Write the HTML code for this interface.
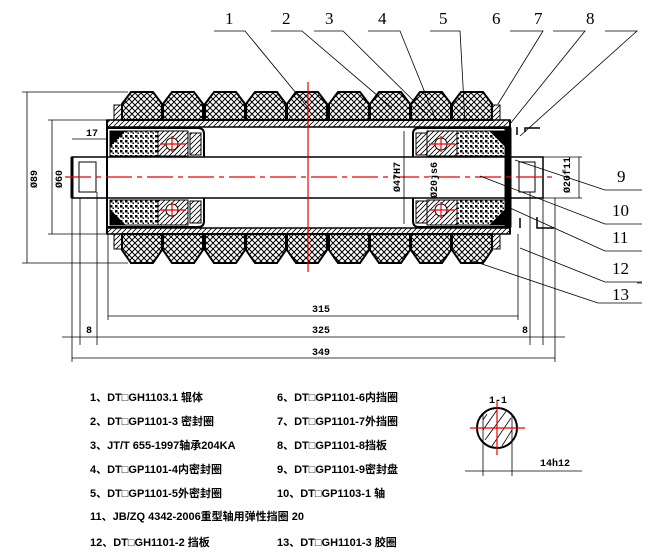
<!DOCTYPE html>
<html><head><meta charset="utf-8"><style>
html,body{margin:0;padding:0;background:#fff;}
svg{display:block;font-family:"Liberation Sans","Noto Sans CJK SC",sans-serif;}
.t{font-size:11px;font-weight:bold;fill:#000;}
.n{font-family:"Liberation Serif",serif;font-size:17px;fill:#000;}
.d{font-family:"Liberation Mono",monospace;font-size:10px;font-weight:bold;fill:#000;}
</style></head><body>
<svg width="658" height="556" viewBox="0 0 658 556" xmlns="http://www.w3.org/2000/svg">
<defs>
<pattern id="x" width="6" height="6" patternUnits="userSpaceOnUse">
<path d="M0 0L6 6M6 0L0 6" stroke="#000" stroke-width="1"/></pattern>
<pattern id="h" width="5" height="5" patternUnits="userSpaceOnUse">
<path d="M0 5L5 0M-1 1L1 -1M4 6L6 4" stroke="#000" stroke-width="0.8"/></pattern>
<pattern id="s" width="5" height="5" patternUnits="userSpaceOnUse">
<rect width="5" height="5" fill="#fff"/><rect x="0" y="0" width="2.5" height="2.5" fill="#000"/><rect x="2.5" y="2.5" width="1.5" height="1.5" fill="#000"/></pattern>
</defs>
<g stroke="#000" fill="none" stroke-width="1">
<g fill="url(#x)" stroke-width="2">
<polygon points="131,92 153,92 162,104 162,120 122,120 122,104"/>
<polygon points="172,92 194,92 203,104 203,120 163,120 163,104"/>
<polygon points="214,92 236,92 245,104 245,120 205,120 205,104"/>
<polygon points="255,92 277,92 286,104 286,120 246,120 246,104"/>
<polygon points="296,92 318,92 327,104 327,120 287,120 287,104"/>
<polygon points="338,92 360,92 369,104 369,120 329,120 329,104"/>
<polygon points="379,92 401,92 410,104 410,120 370,120 370,104"/>
<polygon points="420,92 442,92 451,104 451,120 411,120 411,104"/>
<polygon points="461,92 483,92 492,104 492,120 452,120 452,104"/>
<polygon points="122,234 162,234 162,250 153,263 131,263 122,250"/>
<polygon points="163,234 203,234 203,250 194,263 172,263 163,250"/>
<polygon points="205,234 245,234 245,250 236,263 214,263 205,250"/>
<polygon points="246,234 286,234 286,250 277,263 255,263 246,250"/>
<polygon points="287,234 327,234 327,250 318,263 296,263 287,250"/>
<polygon points="329,234 369,234 369,250 360,263 338,263 329,250"/>
<polygon points="370,234 410,234 410,250 401,263 379,263 370,250"/>
<polygon points="411,234 451,234 451,250 442,263 420,263 411,250"/>
<polygon points="452,234 492,234 492,250 483,263 461,263 452,250"/>
</g>
<rect x="114" y="105" width="8" height="15" fill="url(#h)"/>
<rect x="492" y="105" width="8" height="15" fill="url(#h)"/>
<rect x="114" y="234" width="8" height="15" fill="url(#h)"/>
<rect x="492" y="234" width="8" height="15" fill="url(#h)"/>
<rect x="107" y="120" width="403" height="7" fill="url(#h)" stroke-width="1.5"/>
<rect x="107" y="228" width="403" height="6" fill="url(#h)" stroke-width="1.5"/>
<line x1="107" y1="120" x2="107" y2="234" stroke-width="2"/>
<line x1="510" y1="120" x2="510" y2="234" stroke-width="2"/>
<rect x="72" y="157" width="471" height="41" stroke-width="1.5"/>
<rect x="79" y="162" width="17" height="30"/>
<rect x="519" y="162" width="16" height="30"/>
<line x1="72" y1="157" x2="72" y2="198" stroke-width="3"/>
<path d="M107 128 L198 128 Q204 128 204 134 L204 157" stroke-width="2"/>
<path d="M107 227 L198 227 Q204 227 204 221 L204 198" stroke-width="2"/>
<rect x="110" y="131" width="48" height="25" fill="url(#s)"/>
<rect x="110" y="200" width="48" height="25" fill="url(#s)"/>
<path d="M110 131L125 131L110 146Z M110 225L125 225L110 210Z" fill="#000"/>
<rect x="158" y="131" width="30" height="25" fill="url(#h)"/>
<rect x="158" y="200" width="30" height="25" fill="url(#h)"/>
<circle cx="172" cy="144" r="6" fill="#fff"/><circle cx="172" cy="210" r="6" fill="#fff"/>
<rect x="190" y="133" width="11" height="22" fill="url(#h)"/>
<rect x="190" y="201" width="11" height="22" fill="url(#h)"/>
<path d="M510 128 L419 128 Q413 128 413 134 L413 157" stroke-width="2"/>
<path d="M510 227 L419 227 Q413 227 413 221 L413 198" stroke-width="2"/>
<rect x="416" y="133" width="11" height="22" fill="url(#h)"/>
<rect x="416" y="201" width="11" height="22" fill="url(#h)"/>
<rect x="427" y="131" width="30" height="25" fill="url(#h)"/>
<rect x="427" y="200" width="30" height="25" fill="url(#h)"/>
<circle cx="441" cy="144" r="6" fill="#fff"/><circle cx="441" cy="210" r="6" fill="#fff"/>
<rect x="457" y="131" width="48" height="25" fill="url(#s)"/>
<rect x="457" y="200" width="48" height="25" fill="url(#s)"/>
<path d="M505 131L490 131L505 146Z M505 225L490 225L505 210Z" fill="#000"/>
<rect x="505" y="128" width="6" height="99" fill="#000"/>
</g>
<g stroke="#e00" stroke-width="1.2" fill="none">
<line x1="65" y1="177" x2="555" y2="177" stroke-dasharray="26,5,5,5"/>
<line x1="308" y1="82" x2="308" y2="272"/>
<line x1="160" y1="144" x2="186" y2="144"/><line x1="172" y1="136" x2="172" y2="152"/>
<line x1="160" y1="210" x2="186" y2="210"/><line x1="172" y1="202" x2="172" y2="218"/>
<line x1="429" y1="144" x2="455" y2="144"/><line x1="441" y1="136" x2="441" y2="152"/>
<line x1="429" y1="210" x2="455" y2="210"/><line x1="441" y1="202" x2="441" y2="218"/>
</g>
<g stroke="#000" stroke-width="0.8" fill="none">
<line x1="22" y1="92" x2="128" y2="92"/><line x1="22" y1="263" x2="128" y2="263"/>
<line x1="27" y1="92" x2="27" y2="263"/>
<line x1="48" y1="120" x2="107" y2="120"/><line x1="48" y1="234" x2="107" y2="234"/>
<line x1="52" y1="120" x2="52" y2="234"/>
<line x1="72" y1="139" x2="107" y2="139"/>
<line x1="404" y1="131" x2="404" y2="224"/>
<line x1="543" y1="157" x2="582" y2="157"/><line x1="543" y1="198" x2="582" y2="198"/>
<line x1="579" y1="157" x2="579" y2="198"/>
<line x1="72" y1="198" x2="72" y2="362"/>
<line x1="80" y1="198" x2="80" y2="345"/>
<line x1="97" y1="192" x2="97" y2="345"/>
<line x1="108" y1="234" x2="108" y2="320"/>
<line x1="518" y1="234" x2="518" y2="320"/>
<line x1="530" y1="192" x2="530" y2="345"/>
<line x1="543" y1="198" x2="543" y2="345"/>
<line x1="555" y1="198" x2="555" y2="362"/>
<line x1="108" y1="316" x2="518" y2="316"/>
<line x1="62" y1="337" x2="565" y2="337"/>
<line x1="72" y1="358" x2="555" y2="358"/>
<path d="M517 127 L517 135 M525 132 L525 128 L540 128 M520 228 L520 218 M537 217 L537 228 L554 228" stroke-width="1.5"/>
<path d="M214 31H245L310 110"/>
<path d="M271 31H302L392 108"/>
<path d="M314 31H343L428 115"/>
<path d="M368 31H400L436 120"/>
<path d="M430 31H460L465 122"/>
<path d="M510 31H543L498 104"/>
<path d="M553 31H585L510 124"/>
<path d="M605 31H637L520 136"/>
<path d="M605 190H642M605 190L515 160"/>
<path d="M605 224H642M605 224L480 176"/>
<path d="M605 251H642M605 251L510 208"/>
<path d="M605 282H642M605 282L520 248"/>
<path d="M637 283H642M598 303H642M598 303L470 260"/>
<circle cx="497" cy="428" r="20" stroke-width="2"/>
<line x1="483" y1="414" x2="483" y2="476"/><line x1="512" y1="414" x2="512" y2="476"/>
<line x1="465" y1="471" x2="582" y2="471"/>
</g>
<g stroke="#000" stroke-width="0.8"><path d="M487 414L483 420M497 410L483 430M507 410L485 440M511 418L492 446M512 430L502 446"/></g>
<g stroke="#e00" stroke-width="1.2"><line x1="470" y1="428" x2="525" y2="428"/><line x1="497" y1="401" x2="497" y2="455"/></g>
<g class="n">
<text x="225" y="24">1</text><text x="282" y="24">2</text><text x="325" y="24">3</text><text x="378" y="24">4</text><text x="439" y="24">5</text><text x="492" y="24">6</text><text x="534" y="24">7</text><text x="586" y="24">8</text>
<text x="617" y="182">9</text><text x="612" y="216">10</text><text x="612" y="243">11</text><text x="612" y="274">12</text><text x="612" y="300">13</text>
</g>
<g class="d">
<text x="86" y="136">17</text>
<text x="312" y="312">315</text><text x="312" y="333">325</text><text x="312" y="355">349</text>
<text x="86" y="333">8</text><text x="522" y="333">8</text>
<text x="489" y="403">1-1</text><text x="540" y="466">14h12</text>
<text transform="translate(37,188) rotate(-90)">Ø89</text>
<text transform="translate(62,188) rotate(-90)">Ø60</text>
<text transform="translate(400,192) rotate(-90)">Ø47H7</text>
<text transform="translate(437,198) rotate(-90)">Ø20js6</text>
<text transform="translate(570,193) rotate(-90)">Ø20f11</text>
</g>
<g class="t">
<text x="90" y="401">1、DT□GH1103.1 辊体</text>
<text x="90" y="425">2、DT□GP1101-3 密封圈</text>
<text x="90" y="449">3、JT/T 655-1997轴承204KA</text>
<text x="90" y="473">4、DT□GP1101-4内密封圈</text>
<text x="90" y="497">5、DT□GP1101-5外密封圈</text>
<text x="90" y="520">11、JB/ZQ 4342-2006重型轴用弹性挡圈 20</text>
<text x="90" y="546">12、DT□GH1101-2 挡板</text>
<text x="277" y="401">6、DT□GP1101-6内挡圈</text>
<text x="277" y="425">7、DT□GP1101-7外挡圈</text>
<text x="277" y="449">8、DT□GP1101-8挡板</text>
<text x="277" y="473">9、DT□GP1101-9密封盘</text>
<text x="277" y="497">10、DT□GP1103-1 轴</text>
<text x="277" y="546">13、DT□GH1101-3 胶圈</text>
</g>
</svg>
</body></html>
